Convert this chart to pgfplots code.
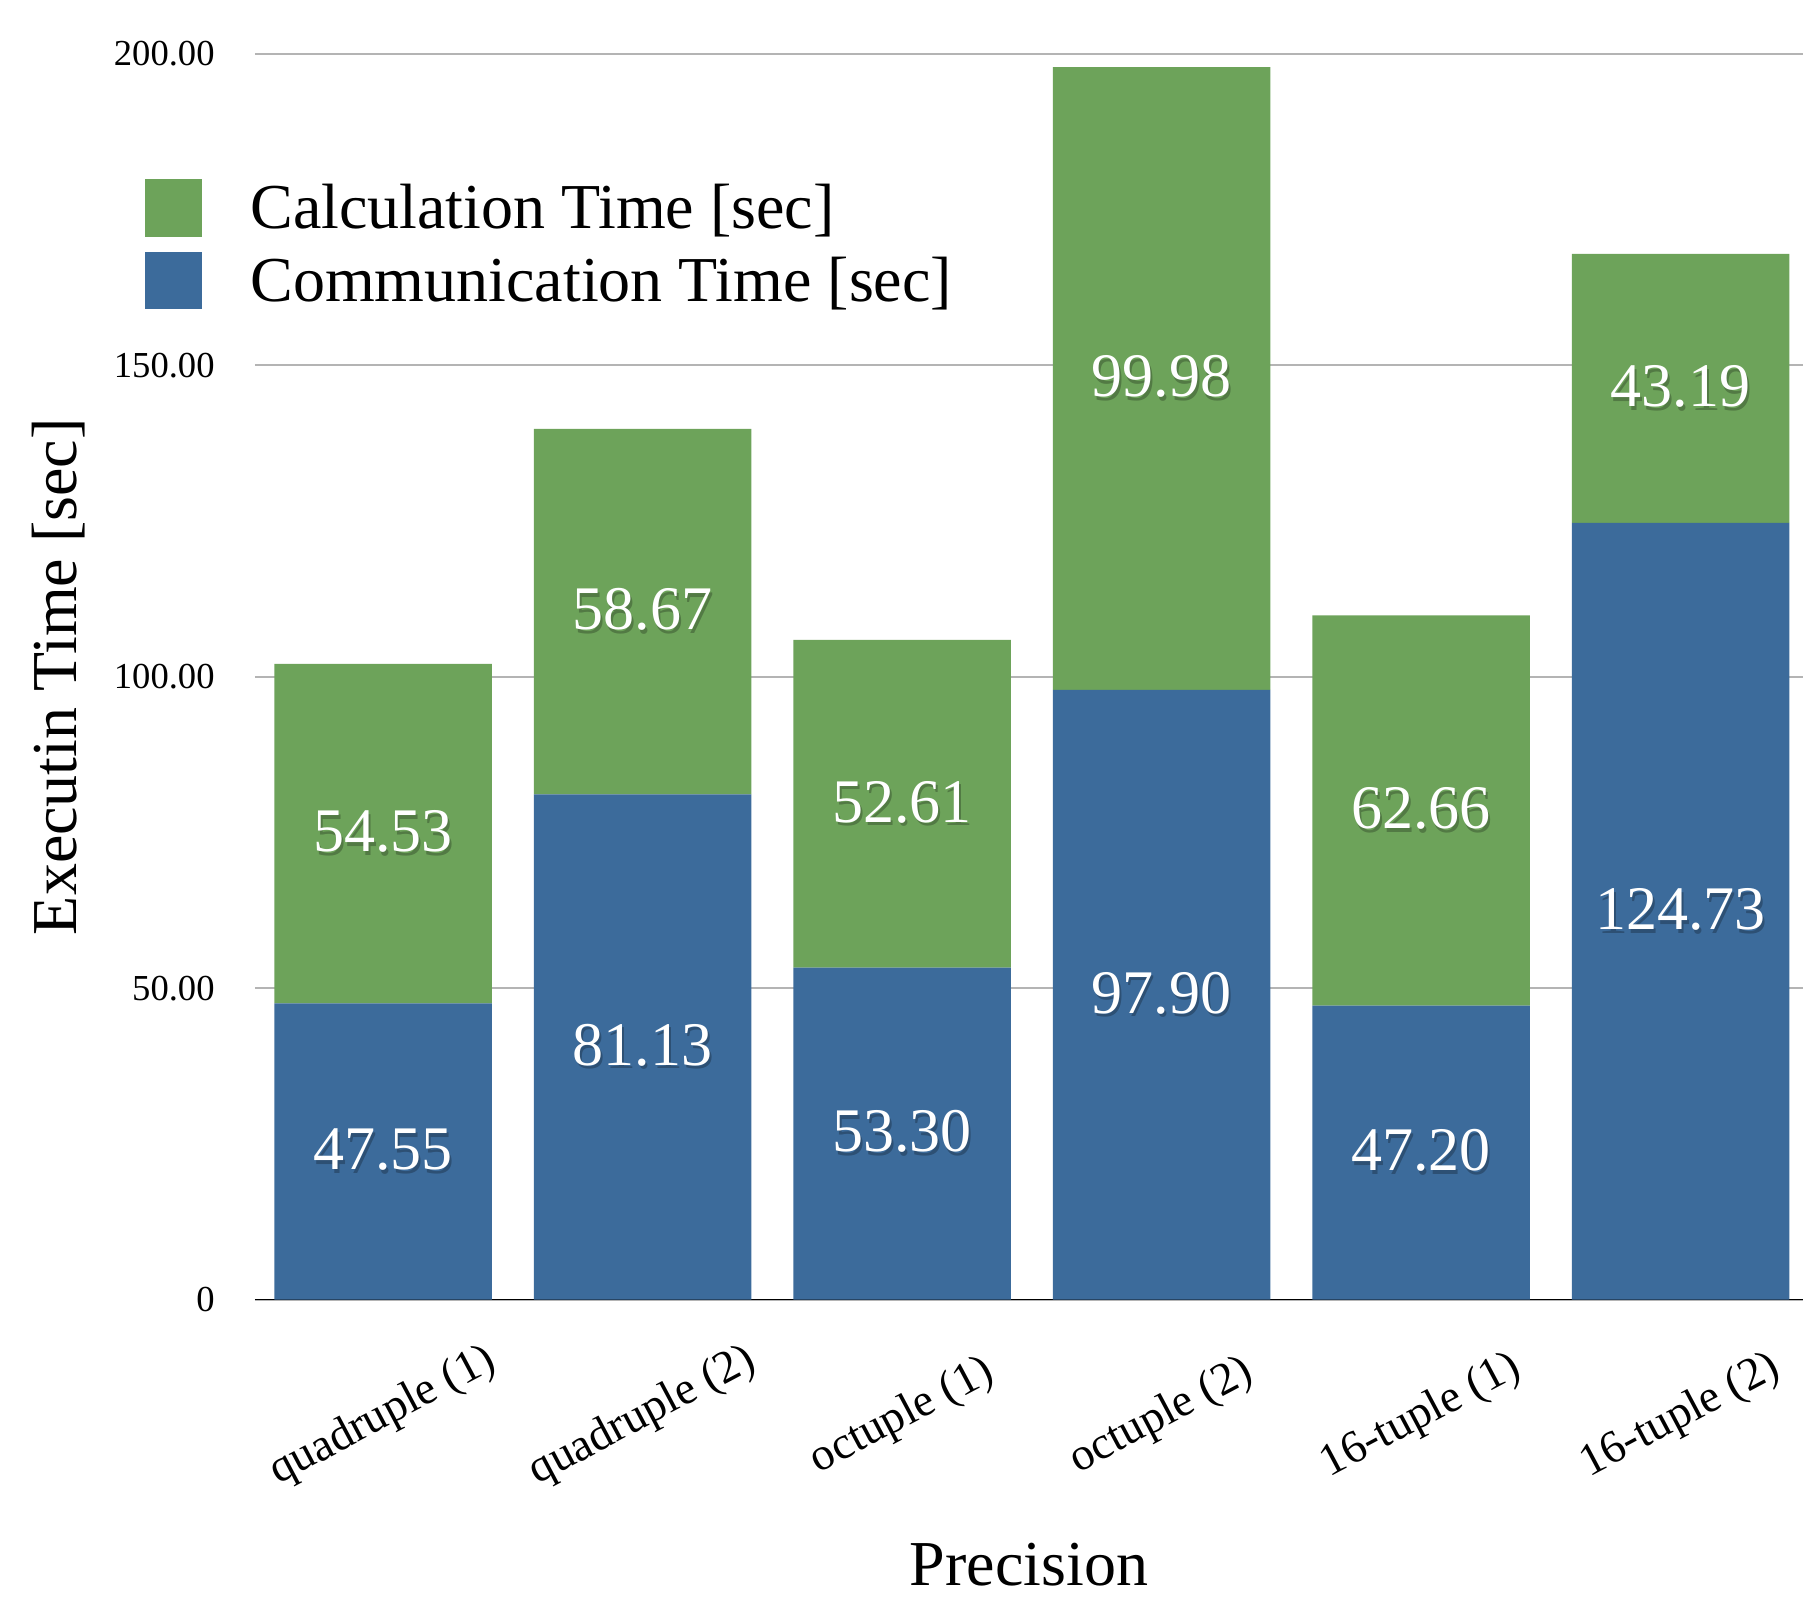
\documentclass[border=0pt]{standalone}
\usepackage{fontspec}
\setmainfont{Liberation Serif}
\usepackage{pgfplots}
\pgfplotsset{compat=1.18}

\definecolor{calcgreen}{HTML}{6DA35A}
\definecolor{commblue}{HTML}{3C6B9B}
\definecolor{gridgray}{HTML}{B4B4B4}

% white value label with a drop shadow in a darker shade of the bar
\newcommand\softshadow[2]{%
  \makebox[0pt][l]{\hspace{0.9pt}\raisebox{-1.8pt}{\textcolor{#1!75!black}{#2}}}%
  \textcolor{white}{#2}}

\begin{document}
\begin{tikzpicture}
\useasboundingbox (-127.5pt,-151.75pt) rectangle (774pt,649.75pt);
\begin{axis}[
  at={(0,0)}, anchor=south west,
  scale only axis, width=774pt, height=622.75pt,
  ybar stacked, bar width=0.838,
  xmin=-0.494, xmax=5.472, ymin=0, ymax=200,
  xtick={0,...,5},
  xticklabels={quadruple (1),quadruple (2),octuple (1),octuple (2),16-tuple (1),16-tuple (2)},
  ytick={0,50,100,150,200},
  yticklabels={0,50.00,100.00,150.00,200.00},
  major tick length=0pt,
  axis line style={draw=none},
  ymajorgrids, grid style={gridgray, line width=1pt},
  yticklabel style={font=\fontsize{18.3}{22}\selectfont, anchor=east, inner sep=0pt, xshift=-20pt},
  xticklabel style={font=\fontsize{23}{27}\selectfont, inner sep=0pt, anchor=center, yshift=-58.5pt, rotate=28},
  xlabel={Precision},
  xlabel style={font=\fontsize{32}{38}\selectfont, at={([yshift=-142.75pt]rel axis cs:0.5,0)}, anchor=base, inner sep=0pt},
  ylabel={Executin Time [sec]},
  ylabel style={font=\fontsize{32}{38}\selectfont, at={([xshift=-89pt]rel axis cs:0,0.5)}, rotate=0, anchor=base, inner sep=0pt},
  % stacked segments: labels show each segment's own value, centred in it
  point meta=rawy,
  every node near coord/.append style={font=\fontsize{31}{31}\selectfont, anchor=center, inner sep=0pt},
  /pgf/number format/.cd, fixed, fixed zerofill, precision=2, assume math mode=true,
  /pgfplots/.cd,
  legend style={draw=none, fill=none, at={(axis description cs:-0.0711,0.8996)}, anchor=north west,
    inner sep=0pt, outer sep=0pt, row sep=4.5pt, column sep=24pt,
    font=\fontsize{32}{38}\selectfont,
    nodes={inner sep=0pt, text height=24pt, text depth=7pt, anchor=base west}},
  legend cell align=left,
  legend image code/.code={\fill[#1] (0pt,-3.8pt) rectangle (28.75pt,24.95pt);},
  reverse legend,
]
% communication time (bottom segment)
\addplot[fill=commblue, draw=none,
  nodes near coords={\softshadow{commblue}{\pgfmathprintnumber{\pgfplotspointmeta}}}]
  coordinates {(0,47.55) (1,81.13) (2,53.30) (3,97.90) (4,47.20) (5,124.73)};
\addlegendentry{Communication Time [sec]}
% calculation time (top segment)
\addplot[fill=calcgreen, draw=none,
  nodes near coords={\softshadow{calcgreen}{\pgfmathprintnumber{\pgfplotspointmeta}}}]
  coordinates {(0,54.53) (1,58.67) (2,52.61) (3,99.98) (4,62.66) (5,43.19)};
\addlegendentry{Calculation Time [sec]}
\draw[black, line width=1pt] (rel axis cs:0,0) -- (rel axis cs:1,0);
\end{axis}
\end{tikzpicture}
\end{document}
